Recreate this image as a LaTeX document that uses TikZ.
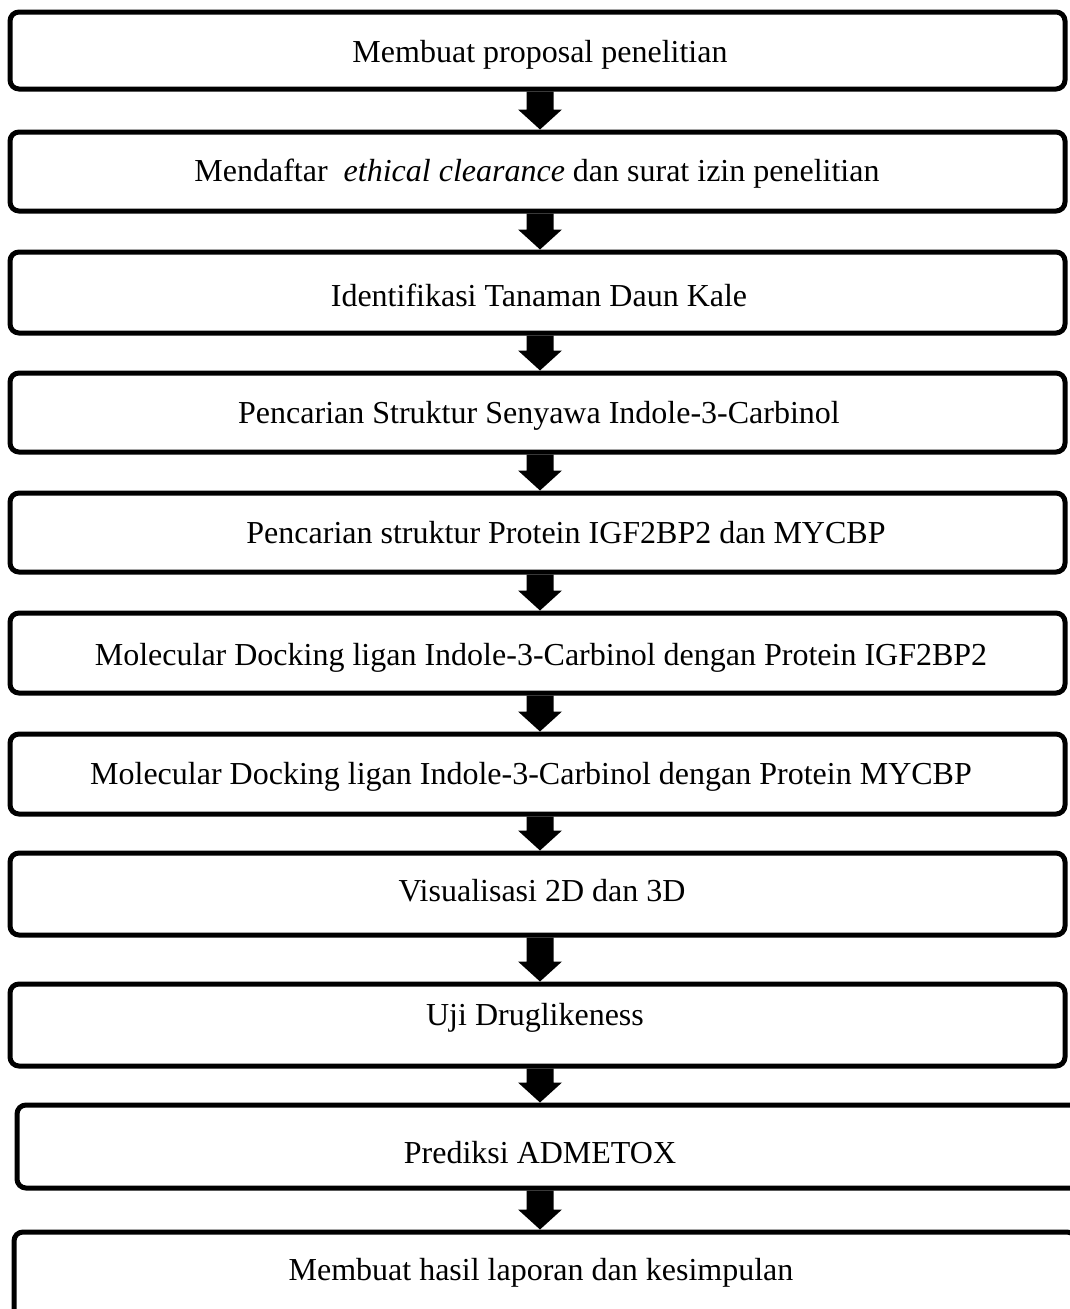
\documentclass[tikz,border=0pt]{standalone}
\usepackage{fontspec}
\setmainfont{Liberation Serif}
\usetikzlibrary{calc}

\tikzset{
  stepbox/.style={draw, line width=5pt, rounded corners=9pt, rectangle,
    inner sep=0pt, minimum width=#1},
  stepbox/.default=1055pt,
  steptext/.style={inner sep=0pt, yshift=-3pt, font=\fontsize{32}{38}\selectfont},
}

% block arrow pointing down from the bottom of one box to the top of the next
\newcommand\flowarrow[2]{%
  \path let \p1=(#1.south -| ax), \p2=(#2.north -| ax) in
    [fill=black] (\x1-13.5pt,\y1) -- (\x1+13.5pt,\y1) -- (\x1+13.5pt,\y2+20pt)
    -- (\x1+22pt,\y2+20pt) -- (\x1,\y2) -- (\x1-22pt,\y2+20pt)
    -- (\x1-13.5pt,\y2+20pt) -- cycle;}

\begin{document}
\begin{tikzpicture}[x=1pt,y=-1pt]
\useasboundingbox (0,0) rectangle (1070,1309);
\clip (0,0) rectangle (1070,1309);
\fill[white] (0,0) rectangle (1070,1309);
\coordinate (ax) at (540,0);

% process boxes
\node[stepbox, minimum height=77pt] (b1) at (537.5,50.5) {};
\node[stepbox, minimum height=79pt] (b2) at (537.5,171.5) {};
\node[stepbox, minimum height=81pt] (b3) at (537.5,292.5) {};
\node[stepbox, minimum height=79pt] (b4) at (537.5,412.5) {};
\node[stepbox, minimum height=79pt] (b5) at (537.5,532.5) {};
\node[stepbox, minimum height=80pt] (b6) at (537.5,653) {};
\node[stepbox, minimum height=80pt] (b7) at (537.5,774) {};
\node[stepbox, minimum height=82pt] (b8) at (537.5,894) {};
\node[stepbox, minimum height=82pt] (b9) at (537.5,1025) {};
\node[stepbox=1073pt, minimum height=83pt] (b10) at (553.5,1146.5) {};
\node[stepbox=1062pt, minimum height=108pt] (b11) at (545,1286) {};

% labels
\node[steptext] (t1) at (540,52) {Membuat proposal penelitian};
\node[steptext] (t2) at (537,171) {Mendaftar\ \ \textit{ethical clearance} dan surat izin penelitian};
\node[steptext] (t3) at (539,292) {Identifikasi Tanaman Daun Kale};
\node[steptext] (t4) at (539,413) {Pencarian Struktur Senyawa Indole-3-Carbinol};
\node[steptext] (t5) at (566,530) {Pencarian struktur Protein IGF2BP2 dan MYCBP};
\node[steptext] (t6) at (541,655) {Molecular Docking ligan Indole-3-Carbinol dengan Protein IGF2BP2};
\node[steptext] (t7) at (531,774) {Molecular Docking ligan Indole-3-Carbinol dengan Protein MYCBP};
\node[steptext] (t8) at (542,888) {Visualisasi 2D dan 3D};
\node[steptext] (t9) at (535,1015) {Uji Druglikeness};
\node[steptext] (t10) at (540,1150) {Prediksi ADMETOX};
\node[steptext] (t11) at (541,1270) {Membuat hasil laporan dan kesimpulan};

% arrows
\flowarrow{b1}{b2}
\flowarrow{b2}{b3}
\flowarrow{b3}{b4}
\flowarrow{b4}{b5}
\flowarrow{b5}{b6}
\flowarrow{b6}{b7}
\flowarrow{b7}{b8}
\flowarrow{b8}{b9}
\flowarrow{b9}{b10}
\flowarrow{b10}{b11}
\end{tikzpicture}
\end{document}
